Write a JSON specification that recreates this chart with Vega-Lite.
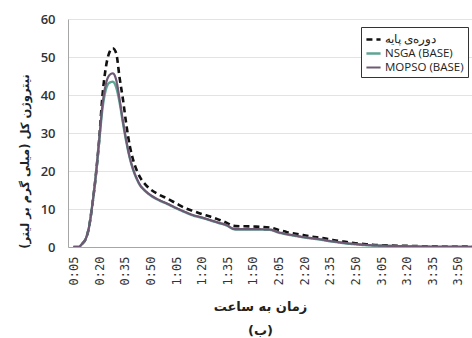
{
  "$schema": "https://vega.github.io/schema/vega-lite/v6.json",
  "width": 404,
  "height": 228,
  "autosize": {"type": "none"},
  "padding": {"left": 68, "top": 19, "right": 0, "bottom": 91},
  "background": "white",
  "config": {"view": {"stroke": null}, "axis": {"labelOverlap": false}},
  "data": {
    "values": [
      {"s": "base", "t": 5, "v": 0}, {"s": "base", "t": 8, "v": 0}, {"s": "base", "t": 10, "v": 0.8}, {"s": "base", "t": 12, "v": 2}, {"s": "base", "t": 14, "v": 5},
      {"s": "base", "t": 16, "v": 11}, {"s": "base", "t": 18, "v": 18.5}, {"s": "base", "t": 20, "v": 28}, {"s": "base", "t": 22, "v": 40}, {"s": "base", "t": 24, "v": 47.4},
      {"s": "base", "t": 26, "v": 51.2}, {"s": "base", "t": 28, "v": 52.3}, {"s": "base", "t": 30, "v": 51}, {"s": "base", "t": 32, "v": 44.5}, {"s": "base", "t": 34, "v": 38.7},
      {"s": "base", "t": 36, "v": 32}, {"s": "base", "t": 38, "v": 26.5}, {"s": "base", "t": 40, "v": 22.8}, {"s": "base", "t": 42, "v": 20.2}, {"s": "base", "t": 44, "v": 18.3},
      {"s": "base", "t": 47, "v": 16.5}, {"s": "base", "t": 50, "v": 15.2}, {"s": "base", "t": 55, "v": 13.8}, {"s": "base", "t": 60, "v": 12.7}, {"s": "base", "t": 65, "v": 11.5},
      {"s": "base", "t": 70, "v": 10.3}, {"s": "base", "t": 75, "v": 9.5}, {"s": "base", "t": 80, "v": 8.7}, {"s": "base", "t": 85, "v": 8.0}, {"s": "base", "t": 90, "v": 7.2},
      {"s": "base", "t": 95, "v": 6.3}, {"s": "base", "t": 98, "v": 5.6}, {"s": "base", "t": 100, "v": 5.5}, {"s": "base", "t": 110, "v": 5.4}, {"s": "base", "t": 120, "v": 5.1},
      {"s": "base", "t": 125, "v": 4.5}, {"s": "base", "t": 130, "v": 3.9}, {"s": "base", "t": 135, "v": 3.5}, {"s": "base", "t": 140, "v": 3.1}, {"s": "base", "t": 145, "v": 2.7},
      {"s": "base", "t": 150, "v": 2.4}, {"s": "base", "t": 155, "v": 2.0}, {"s": "base", "t": 160, "v": 1.6}, {"s": "base", "t": 165, "v": 1.3}, {"s": "base", "t": 170, "v": 1.0},
      {"s": "base", "t": 175, "v": 0.8}, {"s": "base", "t": 180, "v": 0.6}, {"s": "base", "t": 190, "v": 0.4}, {"s": "base", "t": 200, "v": 0.3}, {"s": "base", "t": 210, "v": 0.2},
      {"s": "base", "t": 220, "v": 0.15}, {"s": "base", "t": 230, "v": 0.1}, {"s": "base", "t": 240, "v": 0.1},
      {"s": "nsga", "t": 5, "v": 0}, {"s": "nsga", "t": 8, "v": 0}, {"s": "nsga", "t": 10, "v": 0.8}, {"s": "nsga", "t": 12, "v": 2}, {"s": "nsga", "t": 14, "v": 5},
      {"s": "nsga", "t": 16, "v": 11}, {"s": "nsga", "t": 18, "v": 18.5}, {"s": "nsga", "t": 20, "v": 27.5}, {"s": "nsga", "t": 22, "v": 36.5}, {"s": "nsga", "t": 24, "v": 41.5},
      {"s": "nsga", "t": 26, "v": 43.2}, {"s": "nsga", "t": 28, "v": 43.5}, {"s": "nsga", "t": 30, "v": 42}, {"s": "nsga", "t": 32, "v": 38}, {"s": "nsga", "t": 34, "v": 32.5},
      {"s": "nsga", "t": 36, "v": 27.5}, {"s": "nsga", "t": 38, "v": 23.3}, {"s": "nsga", "t": 40, "v": 20.2}, {"s": "nsga", "t": 42, "v": 17.9}, {"s": "nsga", "t": 44, "v": 16.2},
      {"s": "nsga", "t": 47, "v": 14.7}, {"s": "nsga", "t": 50, "v": 13.6}, {"s": "nsga", "t": 55, "v": 12.3}, {"s": "nsga", "t": 60, "v": 11.3}, {"s": "nsga", "t": 65, "v": 10.2},
      {"s": "nsga", "t": 70, "v": 9.2}, {"s": "nsga", "t": 75, "v": 8.3}, {"s": "nsga", "t": 80, "v": 7.7}, {"s": "nsga", "t": 85, "v": 7.0}, {"s": "nsga", "t": 90, "v": 6.3},
      {"s": "nsga", "t": 95, "v": 5.6}, {"s": "nsga", "t": 98, "v": 4.8}, {"s": "nsga", "t": 100, "v": 4.6}, {"s": "nsga", "t": 110, "v": 4.6}, {"s": "nsga", "t": 120, "v": 4.5},
      {"s": "nsga", "t": 125, "v": 3.8}, {"s": "nsga", "t": 130, "v": 3.3}, {"s": "nsga", "t": 135, "v": 2.9}, {"s": "nsga", "t": 140, "v": 2.5}, {"s": "nsga", "t": 145, "v": 2.2},
      {"s": "nsga", "t": 150, "v": 1.9}, {"s": "nsga", "t": 155, "v": 1.5}, {"s": "nsga", "t": 160, "v": 1.2}, {"s": "nsga", "t": 165, "v": 0.9}, {"s": "nsga", "t": 170, "v": 0.7},
      {"s": "nsga", "t": 175, "v": 0.5}, {"s": "nsga", "t": 180, "v": 0.4}, {"s": "nsga", "t": 190, "v": 0.25}, {"s": "nsga", "t": 200, "v": 0.15}, {"s": "nsga", "t": 210, "v": 0.1},
      {"s": "nsga", "t": 220, "v": 0.05}, {"s": "nsga", "t": 230, "v": 0.05}, {"s": "nsga", "t": 240, "v": 0},
      {"s": "mopso", "t": 5, "v": 0}, {"s": "mopso", "t": 8, "v": 0}, {"s": "mopso", "t": 10, "v": 0.8}, {"s": "mopso", "t": 12, "v": 2}, {"s": "mopso", "t": 14, "v": 5},
      {"s": "mopso", "t": 16, "v": 11}, {"s": "mopso", "t": 18, "v": 18.5}, {"s": "mopso", "t": 20, "v": 28}, {"s": "mopso", "t": 22, "v": 37.5}, {"s": "mopso", "t": 24, "v": 43},
      {"s": "mopso", "t": 26, "v": 45.2}, {"s": "mopso", "t": 28, "v": 45.7}, {"s": "mopso", "t": 30, "v": 44}, {"s": "mopso", "t": 32, "v": 38.8}, {"s": "mopso", "t": 34, "v": 33},
      {"s": "mopso", "t": 36, "v": 27.8}, {"s": "mopso", "t": 38, "v": 23.5}, {"s": "mopso", "t": 40, "v": 20.4}, {"s": "mopso", "t": 42, "v": 18.1}, {"s": "mopso", "t": 44, "v": 16.3},
      {"s": "mopso", "t": 47, "v": 14.8}, {"s": "mopso", "t": 50, "v": 13.7}, {"s": "mopso", "t": 55, "v": 12.4}, {"s": "mopso", "t": 60, "v": 11.4}, {"s": "mopso", "t": 65, "v": 10.3},
      {"s": "mopso", "t": 70, "v": 9.3}, {"s": "mopso", "t": 75, "v": 8.4}, {"s": "mopso", "t": 80, "v": 7.8}, {"s": "mopso", "t": 85, "v": 7.1}, {"s": "mopso", "t": 90, "v": 6.4},
      {"s": "mopso", "t": 95, "v": 5.7}, {"s": "mopso", "t": 98, "v": 4.9}, {"s": "mopso", "t": 100, "v": 4.7}, {"s": "mopso", "t": 110, "v": 4.7}, {"s": "mopso", "t": 120, "v": 4.6},
      {"s": "mopso", "t": 125, "v": 3.9}, {"s": "mopso", "t": 130, "v": 3.4}, {"s": "mopso", "t": 135, "v": 3.0}, {"s": "mopso", "t": 140, "v": 2.6}, {"s": "mopso", "t": 145, "v": 2.3},
      {"s": "mopso", "t": 150, "v": 2.0}, {"s": "mopso", "t": 155, "v": 1.6}, {"s": "mopso", "t": 160, "v": 1.3}, {"s": "mopso", "t": 165, "v": 1.0}, {"s": "mopso", "t": 170, "v": 0.8},
      {"s": "mopso", "t": 175, "v": 0.6}, {"s": "mopso", "t": 180, "v": 0.45}, {"s": "mopso", "t": 190, "v": 0.3}, {"s": "mopso", "t": 200, "v": 0.2}, {"s": "mopso", "t": 210, "v": 0.1},
      {"s": "mopso", "t": 220, "v": 0.05}, {"s": "mopso", "t": 230, "v": 0.05}, {"s": "mopso", "t": 240, "v": 0}
    ]
  },
  "mark": {"type": "line", "clip": true, "interpolate": "monotone"},
  "encoding": {
    "x": {
      "field": "t", "type": "quantitative",
      "scale": {"domain": [1.8, 238.2], "nice": false, "zero": false},
      "axis": {
        "values": [5, 20, 35, 50, 65, 80, 95, 110, 125, 140, 155, 170, 185, 200, 215, 230],
        "labelExpr": "floor(datum.value/60) + ':' + (datum.value%60 < 10 ? '0' : '') + (datum.value%60)",
        "labelAngle": 270, "labelAlign": "right", "labelBaseline": "middle",
        "labelFont": "DejaVu Sans Mono", "labelFontSize": 12, "labelColor": "#333333",
        "labelPadding": 9, "ticks": false, "grid": false,
        "domainColor": "#a6a6a6", "domainWidth": 1,
        "labelOverlap": false, "labelFlush": false, "labelBound": false,
        "title": ["زمان به ساعت", "(ب)"],
        "titleFont": "DejaVu Sans", "titleFontSize": 13, "titleFontWeight": "bold",
        "titleColor": "#222222", "titleX": 192, "titleY": 53,
        "titleAlign": "center", "titleBaseline": "top", "titleLineHeight": 24
      }
    },
    "y": {
      "field": "v", "type": "quantitative",
      "scale": {"domain": [0, 60], "nice": false},
      "axis": {
        "values": [0, 10, 20, 30, 40, 50, 60],
        "labelOverlap": false, "labelBound": false, "labelFlush": false,
        "labelFont": "Open Sans", "labelFontSize": 13, "labelColor": "#333333", "labelFontWeight": 600,
        "labelPadding": 13, "ticks": false,
        "grid": true, "gridColor": "#e3e3e3", "gridWidth": 1,
        "domainColor": "#a6a6a6", "domainWidth": 1,
        "title": "نیتروژن کل (میلی گرم بر لیتر)",
        "titleFont": "DejaVu Sans", "titleFontSize": 11.5, "titleFontWeight": "bold",
        "titleColor": "#222222", "titleX": -43, "titleY": 142,
        "titleAngle": 270, "titleAlign": "center", "titleBaseline": "middle"
      }
    },
    "color": {
      "field": "s", "type": "nominal",
      "scale": {"domain": ["base", "nsga", "mopso"], "range": ["#111111", "#5fa394", "#6e5873"]},
      "legend": {
        "orient": "none", "legendX": 293, "legendY": 8, "title": null,
        "labelExpr": "datum.value == 'base' ? 'دوره‌ی پایه' : datum.value == 'nsga' ? 'NSGA (BASE)' : 'MOPSO (BASE)'",
        "symbolType": "stroke", "symbolSize": 200, "symbolStrokeWidth": 2,
        "labelFont": "Open Sans", "labelFontSize": 11.5, "labelColor": "#222222",
        "labelOffset": 3, "rowPadding": 0,
        "strokeColor": "#333333", "fillColor": "white", "padding": 4
      }
    },
    "strokeDash": {
      "field": "s", "type": "nominal",
      "scale": {"domain": ["base", "nsga", "mopso"], "range": [[6, 4], [1, 0], [1, 0]]},
      "legend": {
        "orient": "none", "legendX": 293, "legendY": 8, "title": null,
        "labelExpr": "datum.value == 'base' ? 'دوره‌ی پایه' : datum.value == 'nsga' ? 'NSGA (BASE)' : 'MOPSO (BASE)'",
        "symbolType": "stroke", "symbolSize": 200, "symbolStrokeWidth": 2,
        "labelFont": "Open Sans", "labelFontSize": 11.5, "labelColor": "#222222",
        "labelOffset": 3, "rowPadding": 0,
        "strokeColor": "#333333", "fillColor": "white", "padding": 4
      }
    },
    "strokeWidth": {
      "field": "s", "type": "nominal",
      "scale": {"domain": ["base", "nsga", "mopso"], "range": [2.6, 2.2, 1.4]},
      "legend": null
    }
  }
}
